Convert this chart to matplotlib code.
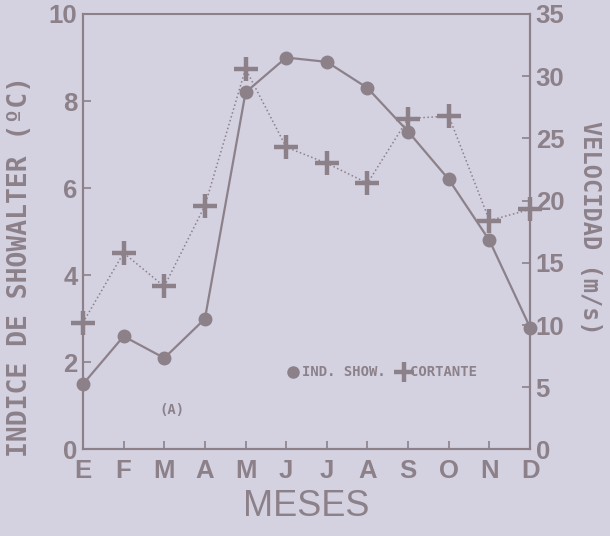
import numpy as np
import matplotlib.pyplot as plt

meses = ['E', 'F', 'M', 'A', 'M', 'J', 'J', 'A', 'S', 'O', 'N', 'D']
showalter = [1.5, 2.6, 2.1, 3.0, 8.2, 9.0, 8.9, 8.3, 7.3, 6.2, 4.8, 2.8]
cortante = [10.2, 15.8, 13.1, 19.6, 30.6, 24.3, 23.0, 21.4, 26.6, 26.8, 18.4, 19.3]

fondo = '#d4d1e1'
tinta = '#8c8189'
plt.rcParams['font.family'] = ['Liberation Sans', 'DejaVu Sans']

fig = plt.figure(figsize=(6.1, 5.36), dpi=100, facecolor=fondo)
ax = fig.add_axes([0.136, 0.1614, 0.733, 0.8125])
ax.set_facecolor(fondo)
x = np.arange(len(meses))

# indice de Showalter, eje izquierdo
ax.plot(x, showalter, '-', color=tinta, lw=1.6, marker='o', ms=9,
        clip_on=False, zorder=3)
ax.set_xlim(0, 11)
ax.set_ylim(0, 10)
ax.set_yticks([0, 2, 4, 6, 8, 10])
ax.set_xticks(x)
ax.set_xticklabels(meses)

# cortante, eje derecho
ax2 = ax.twinx()
ax2.plot(x, cortante, ':', color=tinta, lw=1.1, marker='+', ms=17, mew=3.2,
         clip_on=False, zorder=3)
ax2.set_ylim(0, 35)
ax2.set_yticks([0, 5, 10, 15, 20, 25, 30, 35])

for a in (ax, ax2):
    for s in a.spines.values():
        s.set_color(tinta)
        s.set_linewidth(1.5)
    a.tick_params(colors=tinta, labelcolor=tinta, direction='in', length=6,
                  width=1.2, labelsize=18.5, pad=4)
    for t in a.get_xticklabels() + a.get_yticklabels():
        t.set_fontweight('bold')
ax.tick_params(axis='x', pad=7)
ax.spines['top'].set_visible(False)
ax2.spines['top'].set_visible(False)
ax.plot([0, 1], [1, 1], transform=ax.transAxes, color=tinta, lw=1.5, clip_on=False)

mono = dict(family='DejaVu Sans Mono', fontweight='bold', color=tinta)
ax.set_ylabel('INDICE DE SHOWALTER (ºC)', fontsize=19, va='center', **mono)
ax.yaxis.set_label_coords(-0.141, 0.42)
ax2.set_ylabel('VELOCIDAD (m/s)', fontsize=17, rotation=270, va='center', **mono)
ax2.yaxis.set_label_coords(1.134, 0.51)
ax.set_xlabel('MESES', fontsize=26, color=tinta, labelpad=4)

# leyenda
ax.plot([5.17], [1.78], 'o', color=tinta, ms=8, clip_on=False)
ax.text(5.4, 1.78, 'IND. SHOW.', fontsize=10, va='center', **mono)
ax.plot([7.9], [1.78], '+', color=tinta, ms=15, mew=3.2)
ax.text(8.05, 1.78, 'CORTANTE', fontsize=10, va='center', **mono)
ax.text(2.2, 0.91, '(A)', fontsize=10, va='center', ha='center', **mono)

fig.savefig('out.png', dpi=100, facecolor=fondo)
